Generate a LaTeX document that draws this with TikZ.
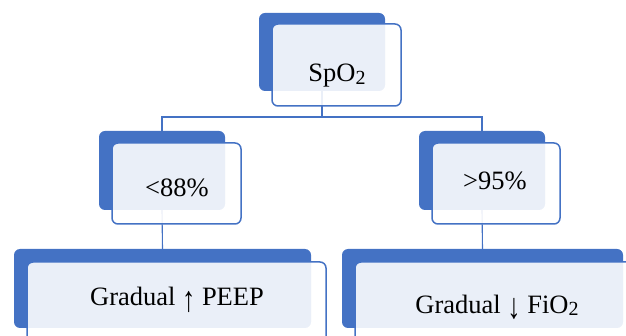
\documentclass[tikz,border=0pt]{standalone}
\usepackage{fontspec}
\setmainfont{Liberation Serif}
\usepackage{tikz}
\usepackage{xcolor}
\definecolor{smartblue}{HTML}{4472C4}
\tikzset{
    backbox/.style={fill=smartblue, rounded corners=6pt, inner sep=0pt},
    frontbox/.style={draw=smartblue, line width=1.5pt, fill=white, fill opacity=0.89, rounded corners=6pt, inner sep=0pt},
    boxtext/.style={anchor=base, inner sep=0pt, font=\fontsize{26.5}{30}\selectfont},
    link/.style={draw=smartblue, line width=1.1pt},
}
\newcommand{\subtwo}{\raisebox{-0.1em}{\fontsize{20}{20}\selectfont 2}}
\newcommand{\tallarrow}[1]{\raisebox{-0.2em}{\scalebox{1}[1.35]{#1}}}

\begin{document}
\begin{tikzpicture}[x=1pt, y=-1pt]
        \clip (0,0) rectangle (626,336);
        \useasboundingbox (0,0) rectangle (626,336);

        \node (topb) at (322.0, 52.0) [backbox, minimum width=126pt, minimum height=78pt] {};
        \node (l1b) at (162.0, 170.5) [backbox, minimum width=126pt, minimum height=79pt] {};
        \node (r1b) at (482.0, 170.5) [backbox, minimum width=126pt, minimum height=79pt] {};
        \node (l2b) at (162.5, 288.5) [backbox, minimum width=297pt, minimum height=79pt] {};
        \node (r2b) at (482.5, 288.5) [backbox, minimum width=281pt, minimum height=79pt] {};
        \coordinate (bus) at (322.0, 117.0);

        \draw[link] (topb.south) -- (bus) -| (l1b.north);
        \draw[link] (bus) -| (r1b.north);
        \draw[link] (l1b.south) -- (l2b.north);
        \draw[link] (r1b.south) -- (r2b.north);

        \node (topf) at (336.5, 65.0) [frontbox, minimum width=129pt, minimum height=82pt] {};
        \node (l1f) at (176.5, 183.5) [frontbox, minimum width=129pt, minimum height=81pt] {};
        \node (r1f) at (496.0, 183.5) [frontbox, minimum width=128pt, minimum height=81pt] {};
        \node (l2f) at (176.5, 304.0) [frontbox, minimum width=299pt, minimum height=84pt] {};
        \node (r2f) at (497.0, 304.0) [frontbox, minimum width=284pt, minimum height=84pt] {};

        \node (topt) at (337.0, 82.0) [boxtext] {SpO\subtwo};
        \node (l1t) at (177.0, 197.0) [boxtext] {<88\%};
        \node (r1t) at (495.0, 190.0) [boxtext] {>95\%};
        \node (l2t) at (177.0, 306.0) [boxtext] {Gradual \tallarrow{↑} PEEP};
        \node (r2t) at (497.0, 313.0) [boxtext] {Gradual \tallarrow{↓} FiO\subtwo};
    \end{tikzpicture}
\end{document}
